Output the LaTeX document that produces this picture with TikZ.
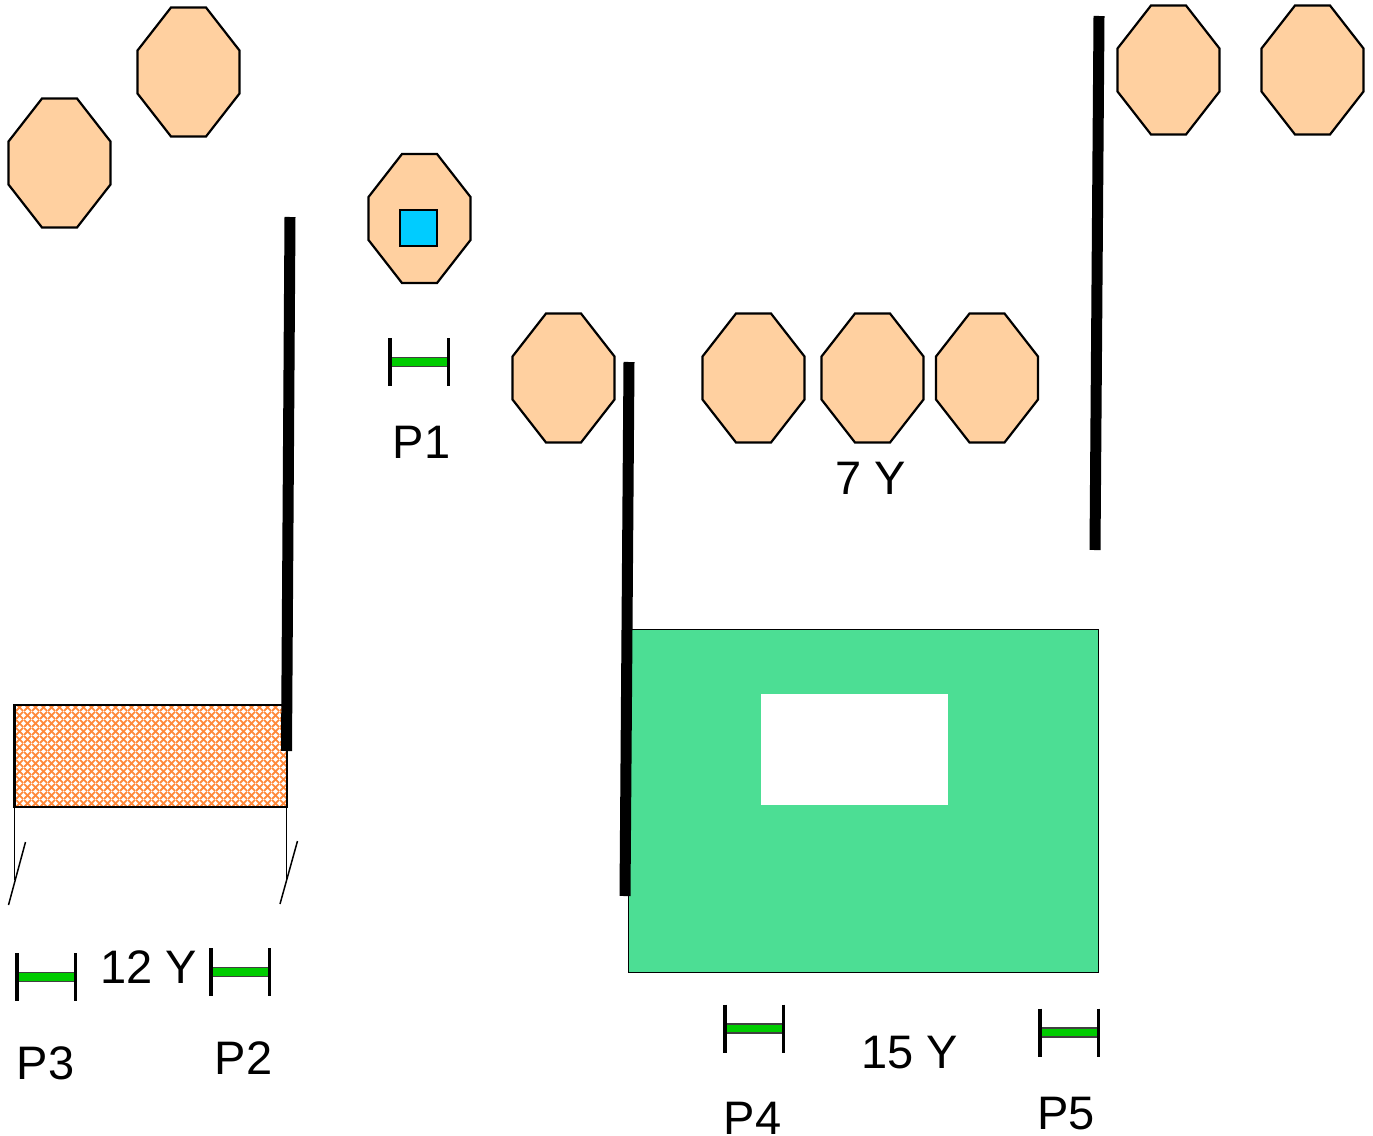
\documentclass[tikz,border=0pt]{standalone}
\usepackage{fontspec}
\setmainfont{Liberation Sans}
\usetikzlibrary{patterns}

\definecolor{octafill}{HTML}{FFD0A0}
\definecolor{spotblue}{HTML}{00CCFF}
\definecolor{markgreen}{HTML}{00CC00}
\definecolor{fieldgreen}{HTML}{4CDE94}
\definecolor{hatchorange}{HTML}{FF8A3C}

\pgfdeclarepatternformonly{weave}{\pgfqpoint{0pt}{0pt}}{\pgfqpoint{8pt}{8pt}}{\pgfqpoint{8pt}{8pt}}{
  \pgfsetlinewidth{2pt}
  \pgfpathmoveto{\pgfqpoint{0pt}{0pt}}
  \pgfpathlineto{\pgfqpoint{8pt}{8pt}}
  \pgfpathmoveto{\pgfqpoint{0pt}{8pt}}
  \pgfpathlineto{\pgfqpoint{8pt}{0pt}}
  \pgfusepath{stroke}
}

\tikzset{
  x=1pt,y=-1pt,
  outline/.style={line width=2.2pt,line join=miter},
  wall/.style={line width=11pt},
  caption/.style={font=\fontsize{47}{50}\selectfont,inner sep=0pt},
  octa/.pic={
    \draw[outline,fill=octafill] (-17.5,-64.5) -- (17.5,-64.5) -- (51,-21.5)
      -- (51,21.5) -- (17.5,64.5) -- (-17.5,64.5) -- (-51,21.5)
      -- (-51,-21.5) -- cycle;
  },
  gauge/.pic={
    \draw[line width=1.5pt,draw=black!75,fill=markgreen] (0,-4.5) rectangle (58.5,4.5);
    \draw[line width=3.5pt] (0,-24) -- (0,24);
    \draw[line width=3.5pt] (58.5,-24) -- (58.5,24);
  }
}

\begin{document}
\begin{tikzpicture}
  \useasboundingbox (0,0) rectangle (1373,1135);

  % green plot and the hatched plot
  \draw[line width=.8pt,fill=fieldgreen] (628.5,629) rectangle (1098.5,972);
  \fill[white] (761,694) rectangle (948,805);
  \fill[white] (14.5,705) rectangle (287,807);
  \fill[pattern=weave,pattern color=hatchorange] (14.5,705) rectangle (287,807);
  \draw[outline] (14.5,705) rectangle (287,807);

  % break marks
  \draw[line width=1.3pt] (14.5,807) -- (14.5,880);
  \draw[line width=1.3pt] (286.5,807) -- (286.5,880);
  \draw[line width=1.5pt] (25.5,842) -- (8.5,905);
  \draw[line width=1.5pt] (297.5,841) -- (280,904);

  % octagons
  \foreach \px/\py in {188.5/72,59.5/163,419.5/218.5,563.5/378,753.5/378,872.5/378,
    987/378,1168.5/70,1312.5/70}
    \pic at (\px,\py) {octa};
  \draw[outline,fill=spotblue] (400,210) rectangle (437,246);

  % walls
  \draw[wall] (290,217) -- (286.5,751);
  \draw[wall] (629,362) -- (625,896);
  \draw[wall] (1099,16) -- (1095,550);

  % gauges
  \foreach \px/\py in {390/362,17/977,211/972,725/1028.5,1040/1032.5}
    \pic at (\px,\py) {gauge};

  % labels
  \node[caption] (p1) at (421.5,442.5) {P1};
  \node[caption] (p2) at (243.5,1058) {P2};
  \node[caption] (p3) at (45.5,1063) {P3};
  \node[caption] (p4) at (752.5,1118) {P4};
  \node[caption] (p5) at (1066,1113.5) {P5};
  \node[caption] (sevenY) at (870.5,478) {7 Y};
  \node[caption] (twelveY) at (148.5,967) {12 Y};
  \node[caption] (fifteenY) at (909.5,1052.5) {15 Y};
\end{tikzpicture}
\end{document}
